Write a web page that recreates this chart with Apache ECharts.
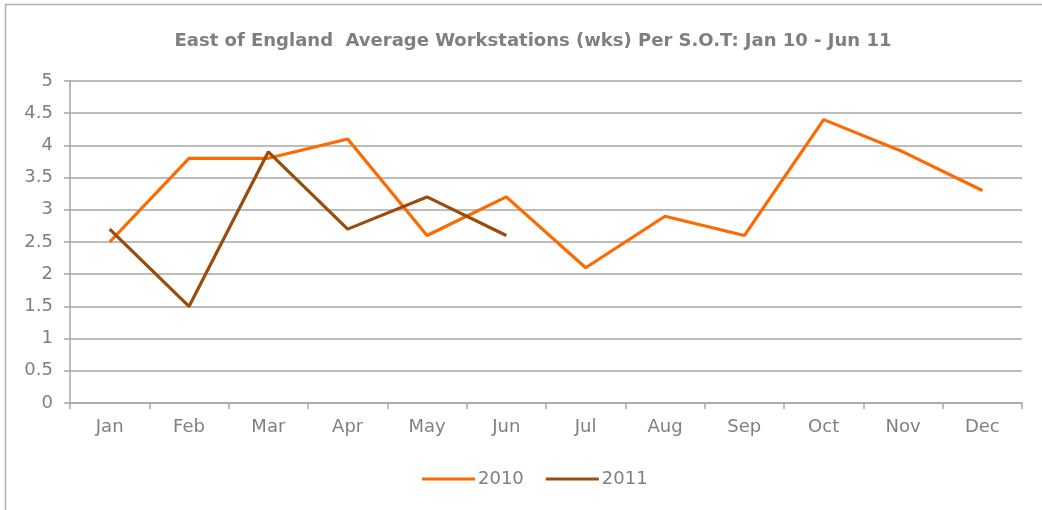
<!DOCTYPE html>
<html><head><meta charset="utf-8">
<script src="https://cdn.jsdelivr.net/npm/echarts@6/dist/echarts.min.js"></script>
<style>html,body{margin:0;padding:0;background:#fff}#c{width:1042px;height:510px}</style>
</head><body><div id="c"></div>
<script>
const categories = ['Jan','Feb','Mar','Apr','May','Jun','Jul','Aug','Sep','Oct','Nov','Dec'];
const values2010 = [2.5,3.8,3.8,4.1,2.6,3.2,2.1,2.9,2.6,4.4,3.9,3.3];
const values2011 = [2.7,1.5,3.9,2.7,3.2,2.6];
const yTicks = ['0','0.5','1','1.5','2','2.5','3','3.5','4','4.5','5'];

const chart = echarts.init(document.getElementById('c'));
const gray = '#808080';
const font = 'DejaVu Sans';
chart.setOption({
  animation:false,
  title:{text:'East of England  Average Workstations (wks) Per S.O.T: Jan 10 - Jun 11',left:528,textAlign:'center',top:27,
    textStyle:{fontFamily:font,fontWeight:'bold',fontSize:18,color:'#7f7f7f'}},
  graphic:[
    {type:'line',shape:{x1:5.5,y1:4,x2:5.5,y2:510},style:{stroke:'#b0b0b0',lineWidth:1.5}},
    {type:'line',shape:{x1:5,y1:4.5,x2:1042,y2:4.5},style:{stroke:'#b0b0b0',lineWidth:1.5}}
  ],
  legend:{data:[{name:'2010',icon:'rect'},{name:'2011',icon:'rect'}],left:417,top:465,itemWidth:53,itemHeight:3,itemGap:22,
    textStyle:{fontFamily:font,fontSize:18,color:gray,padding:[0,0,0,-2]}},
  grid:{left:70,right:20,top:81,bottom:107},
  xAxis:{type:'category',data:categories,boundaryGap:true,
    axisLine:{lineStyle:{color:'#a6a6a6',width:1.5}},
    axisTick:{show:true,length:6,lineStyle:{color:'#a6a6a6',width:1.5}},
    axisLabel:{fontFamily:font,fontSize:18,color:gray,margin:15},
    splitLine:{show:false}},
  yAxis:{type:'value',min:0,max:5,interval:0.5,
    axisLine:{show:true,lineStyle:{color:'#a6a6a6',width:1.5}},
    axisTick:{show:true,length:6,lineStyle:{color:'#a6a6a6',width:1.5}},
    axisLabel:{fontFamily:font,fontSize:18,color:gray,margin:17,
      formatter:(v)=>yTicks[Math.round(v*2)]},
    splitLine:{lineStyle:{color:'#a6a6a6',width:1.5}}},
  series:[
    {name:'2010',type:'line',data:values2010,symbol:'none',lineStyle:{color:'#ff6a00',width:3.2},itemStyle:{color:'#ff6a00'}},
    {name:'2011',type:'line',data:values2011,symbol:'none',lineStyle:{color:'#9a4c0c',width:3.2},itemStyle:{color:'#9a4c0c'}}
  ]
});
</script></body></html>
